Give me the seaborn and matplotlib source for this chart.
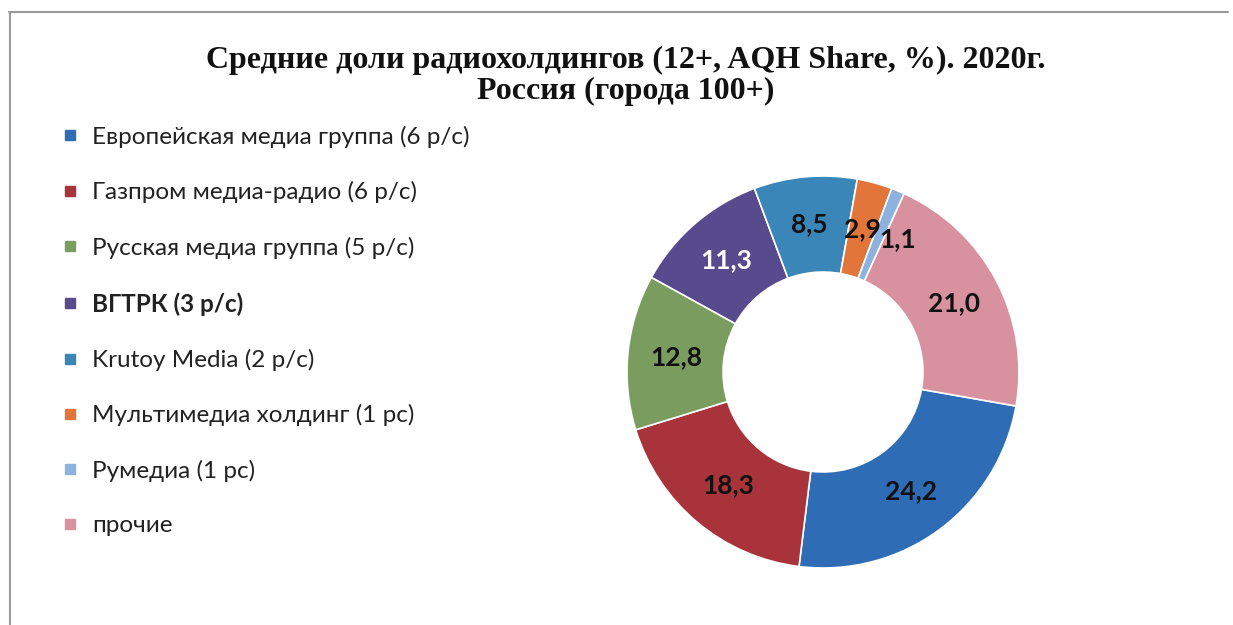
import matplotlib
matplotlib.use("Agg")
import matplotlib.pyplot as plt
from matplotlib.lines import Line2D
import seaborn as sns

holdings = [
    "Европейская медиа группа (6 р/с)",
    "Газпром медиа-радио (6 р/с)",
    "Русская медиа группа (5 р/с)",
    "ВГТРК (3 р/с)",
    "Krutoy Media (2 р/с)",
    "Мультимедиа холдинг (1 рс)",
    "Румедиа (1 рс)",
    "прочие",
]
shares = [24.2, 18.3, 12.8, 11.3, 8.5, 2.9, 1.1, 21.0]
colors = ["#2e6db5", "#a8333b", "#7b9c5f", "#574a8d",
          "#3a86b8", "#e2763a", "#8db2df", "#d8919f"]
label_colors = ["#111111", "#111111", "#111111", "white",
                "#111111", "#111111", "#111111", "#111111"]

title = "Средние доли радиохолдингов (12+, AQH Share, %). 2020г.\nРоссия (города 100+)"

sns.set_theme(style="white")
palette = sns.color_palette(colors)

W, H = 1233, 625
fig = plt.figure(figsize=(W / 100, H / 100), dpi=100)

# donut: center (823, 372) px, outer radius ~196 px
cx, cy, r = 823, 372, 196
ax = fig.add_axes([(cx - r) / W, (H - cy - r) / H, 2 * r / W, 2 * r / H])
wedges, texts = ax.pie(
    shares,
    colors=palette,
    labels=[f"{v:.1f}".replace(".", ",") for v in shares],
    labeldistance=0.755,
    startangle=-10,
    counterclock=False,
    radius=1,
    wedgeprops=dict(width=0.49, edgecolor="white", linewidth=1.2),
    textprops=dict(ha="center", va="center", fontsize=19,
                   fontweight="bold", family="Lato"),
)
for t, c in zip(texts, label_colors):
    t.set_color(c)
# small slices: nudge the last label so it does not collide
x, y = texts[6].get_position()
texts[6].set_position((x + 0.09, y - 0.02))
ax.set_xlim(-1, 1)
ax.set_ylim(-1, 1)
ax.set_aspect("auto")

handles = [Line2D([], [], marker="s", linestyle="", markersize=7,
                  markerfacecolor=c, markeredgecolor=c) for c in palette]
leg = fig.legend(handles, holdings, loc="upper left",
                 bbox_to_anchor=(40 / W, 1 - 104 / H),
                 frameon=False, labelspacing=1.37,
                 handlelength=0.7, handletextpad=0.55,
                 prop=dict(family="Lato", size=17.5))
for t in leg.get_texts():
    t.set_color("#222222")
leg.get_texts()[3].set_fontweight("bold")

fig.text(626 / W, 1 - 76 / H, title, ha="center", va="center",
         family="Liberation Serif", fontweight="bold", fontsize=23,
         linespacing=1.12, color="#111111")

# thin frame lines like the screenshot border
fig.add_artist(Line2D([9 / W, 1228 / W], [1 - 12 / H, 1 - 12 / H],
                      color="#9a9a9a", linewidth=1.5))
fig.add_artist(Line2D([10 / W, 10 / W], [0, 1 - 12 / H],
                      color="#9a9a9a", linewidth=1.5))

fig.savefig("out.png", dpi=100, facecolor="white")
